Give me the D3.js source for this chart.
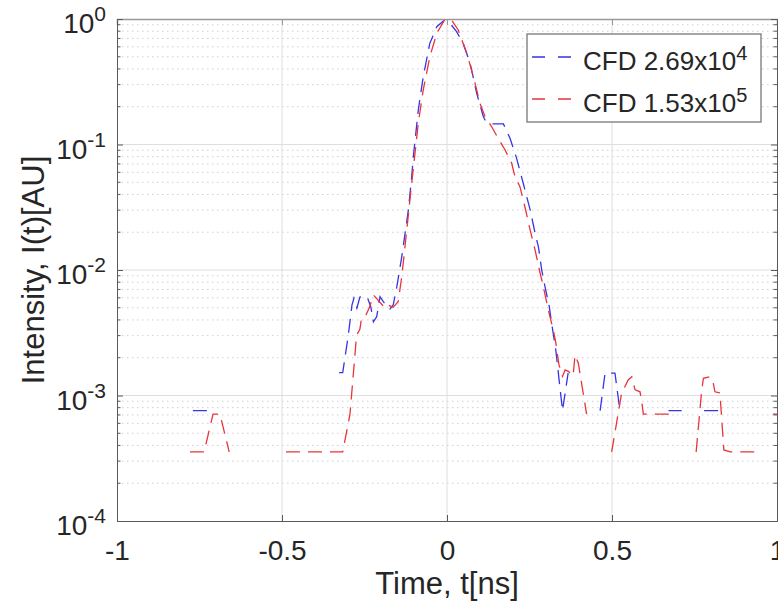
<!DOCTYPE html>
<html>
<head>
<meta charset="utf-8">
<script src="https://cdn.jsdelivr.net/npm/d3@7"></script>
<style>
  body { margin: 0; background: #fff; }
  text { font-family: Helvetica, "Liberation Sans", Arial, sans-serif; fill: #262626; }
</style>
</head>
<body>
<svg id="chart" width="778" height="608"></svg>
<script>
// axis ticks
const xTicks = [-1, -0.5, 0, 0.5, 1]
const xTickLabels = ['-1', '-0.5', '0', '0.5', '1']
const yTicks = [1e-4, 1e-3, 1e-2, 1e-1, 1]
const yTickExps = ['-4', '-3', '-2', '-1', '0']

// CFD 2.69x10^4 (null = no counts, gap in the log plot)
const blueT = [-0.770, -0.725, null,
  -0.327, -0.316, -0.299, -0.288, -0.282, -0.273, -0.264, -0.242, -0.231, -0.223,
  -0.213, -0.203, -0.193, -0.182, -0.173, -0.163, -0.152, -0.137, -0.117, -0.107,
  -0.102, -0.087, -0.072, -0.052, -0.031, -0.004, 0.009, 0.029, 0.049, 0.070,
  0.090, 0.110, 0.115, 0.135, 0.171, 0.191, 0.211, 0.231, 0.252, 0.267,
  0.277, 0.287, 0.297, 0.310, 0.317, 0.330, 0.350, 0.367, null,
  0.464, 0.479, 0.509, 0.524, null,
  0.671, 0.711, null,
  0.779, 0.822]
const blueI = [7.57e-4, 7.57e-4, null,
  1.52e-3, 1.52e-3, 3.03e-3, 5.26e-3, 5.98e-3, 4.98e-3, 6.09e-3, 6.12e-3, 5.10e-3, 3.87e-3,
  4.25e-3, 6.12e-3, 5.59e-3, 5.16e-3, 4.89e-3, 5.26e-3, 7.36e-3, 1.28e-2, 3.01e-2, 5.54e-2,
  8.0e-2, 0.188, 0.347, 0.640, 0.868, 1.0, 0.924, 0.792, 0.640, 0.444,
  0.256, 0.167, 0.157, 0.146, 0.146, 0.112, 7.76e-2, 4.91e-2, 3.01e-2, 1.96e-2,
  1.53e-2, 1.0e-2, 7.36e-3, 5.10e-3, 3.79e-3, 2.27e-3, 7.57e-4, 1.51e-3, null,
  7.57e-4, 1.51e-3, 1.51e-3, 7.57e-4, null,
  7.57e-4, 7.57e-4, null,
  7.57e-4, 7.57e-4]

// CFD 1.53x10^5
const redT = [-0.779, -0.736, -0.709, -0.688, -0.660, null,
  -0.488, -0.316, -0.294, -0.274, -0.264, -0.259, -0.248, -0.243, -0.235, -0.223,
  -0.193, -0.188, -0.168, -0.163, -0.148, -0.140, -0.137, -0.122, -0.107, -0.097,
  -0.087, -0.072, -0.052, -0.031, -0.006, 0.014, 0.034, 0.060, 0.080, 0.100,
  0.115, 0.135, 0.155, 0.176, 0.196, 0.206, 0.221, 0.236, 0.252, 0.267,
  0.280, 0.292, 0.307, 0.322, 0.330, 0.339, 0.350, 0.358, 0.369, 0.373,
  0.378, 0.383, 0.388, 0.398, 0.403, 0.423, null,
  0.499, 0.529, 0.549, 0.560, 0.570, 0.585, 0.590, 0.595, 0.686, null,
  0.755, 0.772, 0.777, 0.797, 0.805, 0.812, 0.827, 0.839, 0.858, 0.945, null,
  0.988, 1.0]
const redI = [3.55e-4, 3.55e-4, 7.1e-4, 7.1e-4, 3.55e-4, null,
  3.55e-4, 3.55e-4, 7.1e-4, 3.03e-3, 3.37e-3, 4.12e-3, 4.25e-3, 4.52e-3, 5.04e-3, 6.32e-3,
  5.16e-3, 5.43e-3, 5.10e-3, 5.04e-3, 5.59e-3, 7.83e-3, 8.85e-3, 2.08e-2, 4.91e-2, 8.51e-2,
  0.148, 0.272, 0.501, 0.769, 1.0, 0.982, 0.817, 0.533, 0.347, 0.213,
  0.167, 0.139, 0.112, 9.04e-2, 7.08e-2, 5.54e-2, 4.61e-2, 3.19e-2, 2.08e-2, 1.44e-2,
  1.0e-2, 7.36e-3, 4.80e-3, 3.33e-3, 2.61e-3, 1.77e-3, 1.42e-3, 1.60e-3, 1.55e-3, 1.50e-3,
  1.60e-3, 1.52e-3, 2.10e-3, 1.81e-3, 1.50e-3, 7.1e-4, null,
  3.55e-4, 1.04e-3, 1.33e-3, 1.41e-3, 1.11e-3, 1.07e-3, 8.93e-4, 7.1e-4, 7.1e-4, null,
  3.55e-4, 1.11e-3, 1.37e-3, 1.41e-3, 1.33e-3, 1.07e-3, 1.05e-3, 3.68e-4, 3.55e-4, 3.55e-4, null,
  7.1e-4, 7.1e-4]

const seriesNames = ['CFD 2.69x10', 'CFD 1.53x10']
const seriesExps = ['4', '5']
const seriesColors = ['#3535e6', '#e8343a']

const svg = d3.select('#chart')
const m = { left: 117, right: 777, top: 19, bottom: 521 }

const x = d3.scaleLinear().domain([-1, 1]).range([m.left, m.right])
const y = d3.scaleLog().domain([1e-4, 1]).range([m.bottom, m.top])

// minor decade positions 2..9 x 10^k
const yMinor = []
for (let k = -4; k < 0; k++) {
  for (let j = 2; j <= 9; j++) yMinor.push(j * Math.pow(10, k))
}

svg.append('clipPath').attr('id', 'clip')
  .append('rect')
  .attr('x', m.left).attr('y', m.top)
  .attr('width', m.right - m.left).attr('height', m.bottom - m.top)

// grid
const grid = svg.append('g')
grid.selectAll('.minor')
  .data(yMinor)
  .join('line')
  .attr('x1', m.left).attr('x2', m.right)
  .attr('y1', (d) => y(d)).attr('y2', (d) => y(d))
  .attr('stroke', '#cfcfcf')
  .attr('stroke-dasharray', '1.5,3.5')
  .attr('stroke-width', 1)
grid.selectAll('.hmajor')
  .data(yTicks.slice(1, -1))
  .join('line')
  .attr('x1', m.left).attr('x2', m.right)
  .attr('y1', (d) => y(d)).attr('y2', (d) => y(d))
  .attr('stroke', '#dedede')
grid.selectAll('.vmajor')
  .data(xTicks.slice(1, -1))
  .join('line')
  .attr('x1', (d) => x(d)).attr('x2', (d) => x(d))
  .attr('y1', m.top).attr('y2', m.bottom)
  .attr('stroke', '#dedede')

// data
const makeRows = (ts, vs) => ts.map((t, i) => ({ t, v: vs[i] }))
const line = d3.line()
  .defined((d) => d.v != null)
  .x((d) => x(d.t))
  .y((d) => y(d.v))

const plot = svg.append('g').attr('clip-path', 'url(#clip)')
plot.selectAll('.series')
  .data([makeRows(blueT, blueI), makeRows(redT, redI)])
  .join('path')
  .attr('d', line)
  .attr('fill', 'none')
  .attr('stroke', (d, i) => seriesColors[i])
  .attr('stroke-width', 1.3)
  .attr('stroke-dasharray', '14,8')

// axes box and ticks
const axisColor = '#5a5a5a'
const xAxis = svg.append('g')
  .attr('transform', `translate(0,${m.bottom})`)
  .call(d3.axisBottom(x).tickValues(xTicks).tickSize(-6).tickFormat((d, i) => xTickLabels[i]))
xAxis.select('.domain').attr('stroke', axisColor)
xAxis.selectAll('.tick line').attr('stroke', axisColor)
xAxis.selectAll('.tick text')
  .attr('y', 39).attr('dy', 0)
  .attr('font-size', 28)
  .attr('fill', '#262626')

svg.append('g')
  .attr('transform', `translate(0,${m.top})`)
  .call(d3.axisTop(x).tickValues(xTicks).tickSize(-6).tickFormat(''))
  .call((g) => g.selectAll('path, line').attr('stroke', '#999'))
  .call((g) => g.select('.domain').attr('stroke-width', 1.5))

const yAxis = svg.append('g')
  .attr('transform', `translate(${m.left},0)`)
  .call(d3.axisLeft(y).tickValues(yTicks).tickSize(-6).tickFormat(''))
yAxis.selectAll('path, line').attr('stroke', axisColor)

svg.append('g')
  .attr('transform', `translate(${m.right},0)`)
  .call(d3.axisRight(y).tickValues(yTicks).tickSize(-6).tickFormat(''))
  .call((g) => g.selectAll('path, line').attr('stroke', axisColor))

// minor ticks on both sides
svg.append('g').selectAll('line')
  .data(yMinor)
  .join('line')
  .attr('x1', m.left).attr('x2', m.left + 3.5)
  .attr('y1', (d) => y(d)).attr('y2', (d) => y(d))
  .attr('stroke', axisColor)
svg.append('g').selectAll('line')
  .data(yMinor)
  .join('line')
  .attr('x1', m.right - 3.5).attr('x2', m.right)
  .attr('y1', (d) => y(d)).attr('y2', (d) => y(d))
  .attr('stroke', axisColor)

// y tick labels 10^k
const yLab = svg.append('g').selectAll('text')
  .data(yTicks)
  .join('text')
  .attr('x', m.left - 11)
  .attr('y', (d) => y(d) + 14)
  .attr('text-anchor', 'end')
  .attr('font-size', 28)
yLab.append('tspan').text('10')
yLab.append('tspan')
  .attr('dy', -12)
  .attr('font-size', 21)
  .text((d, i) => yTickExps[i])

// axis titles
svg.append('text')
  .attr('x', x(0)).attr('y', 594)
  .attr('text-anchor', 'middle')
  .attr('font-size', 31)
  .text('Time, t[ns]')
svg.append('text')
  .attr('transform', `translate(44,${(m.top + m.bottom) / 2}) rotate(-90)`)
  .attr('text-anchor', 'middle')
  .attr('font-size', 31)
  .text('Intensity, I(t)[AU]')

// legend
const legend = svg.append('g').attr('transform', 'translate(527,34)')
legend.append('rect')
  .attr('width', 234).attr('height', 88)
  .attr('fill', '#fff')
  .attr('stroke', '#777')
  .attr('stroke-width', 1.3)
const items = legend.selectAll('.item')
  .data(seriesNames)
  .join('g')
  .attr('transform', (d, i) => `translate(0,${23 + i * 42})`)
items.append('line')
  .attr('x1', 5).attr('x2', 45)
  .attr('stroke', (d, i) => seriesColors[i])
  .attr('stroke-width', 1.3)
  .attr('stroke-dasharray', '13,13')
const lt = items.append('text')
  .attr('x', 56).attr('y', 13)
  .attr('font-size', 26)
  .attr('fill', '#000')
lt.append('tspan').text((d) => d)
lt.append('tspan')
  .attr('dy', -10)
  .attr('font-size', 20)
  .text((d, i) => seriesExps[i])
</script>
</body>
</html>
